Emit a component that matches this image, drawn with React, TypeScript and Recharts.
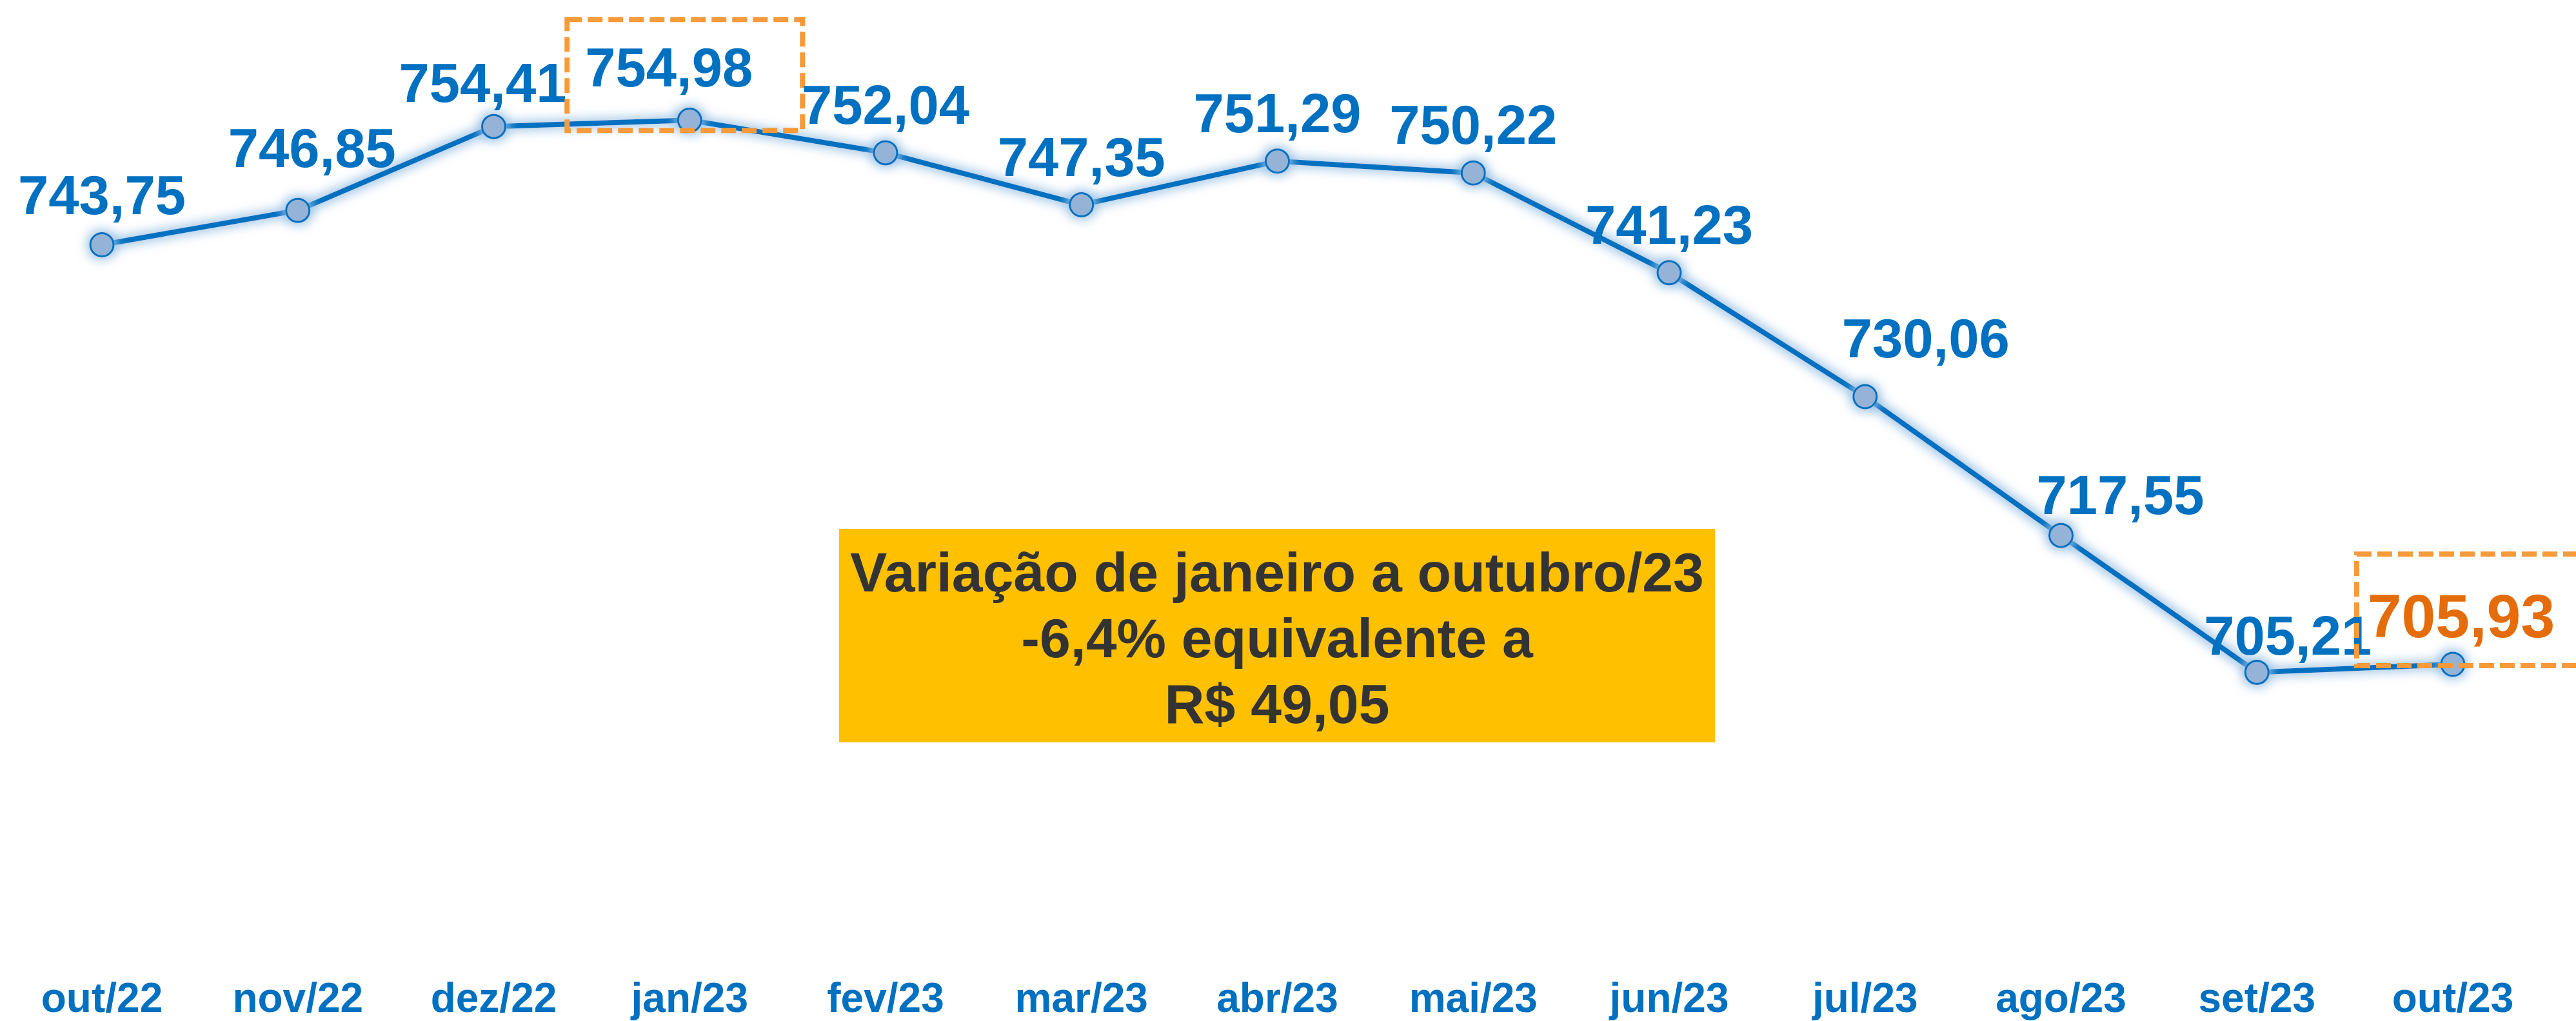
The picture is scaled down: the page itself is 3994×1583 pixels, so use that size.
import React from "react"
import { LineChart, Line, XAxis, YAxis, LabelList } from "recharts"

const months = [
  "out/22", "nov/22", "dez/22", "jan/23", "fev/23", "mar/23", "abr/23",
  "mai/23", "jun/23", "jul/23", "ago/23", "set/23", "out/23",
]
const prices = [
  743.75, 746.85, 754.41, 754.98, 752.04, 747.35, 751.29,
  750.22, 741.23, 730.06, 717.55, 705.21, 705.93,
]
const noteLines = ["Variação de janeiro a outubro/23", "-6,4% equivalente a", "R$ 49,05"]

const data = months.map((month, i) => ({ month, price: prices[i] }))

// label nudges (layout only), by point index
const labelDx = [0, 22, -17, -32, 0, 0, 0, 0, 0, 94, 92, 48, 13]
const labelDy = [48, 67, 38, 52, 45, 45, 45, 45, 45, 61, 33, 27, 42]
// dashed boxes around highlighted points, relative to the point
const boxes: Record<number, { x: number; y: number; w: number; h: number }> = {
  3: { x: -190, y: -156, w: 365, h: 172 },
  12: { x: -149, y: -171, w: 420, h: 173 },
}

const BLUE = "#0070C0"
const ORANGE = "#E46C0A"
const FONT = "'Liberation Sans', Arial, sans-serif"

const fmt = (v: number) => v.toFixed(2).replace(".", ",")

function renderLabel(props: any) {
  const { x, y, value, index } = props
  const last = index === prices.length - 1
  const box = boxes[index]
  return (
    <g key={index}>
      {box && (
        <rect
          x={x + box.x}
          y={y + box.y}
          width={box.w}
          height={box.h}
          fill="none"
          stroke="#F79A3A"
          strokeWidth={8}
          strokeDasharray="23 9"
        />
      )}
      <text
        x={x + labelDx[index]}
        y={y - labelDy[index]}
        textAnchor="middle"
        fill={last ? ORANGE : BLUE}
        fontSize={last ? 95 : 85}
        fontWeight="bold"
        fontFamily={FONT}
      >
        {fmt(Number(value))}
      </text>
    </g>
  )
}

function MonthTick(props: any) {
  const { x, y, payload } = props
  return (
    <text
      x={x}
      y={y}
      dy={93}
      textAnchor="middle"
      fill={BLUE}
      fontSize={64}
      fontWeight="bold"
      fontFamily={FONT}
    >
      {payload.value}
    </text>
  )
}

export default function App() {
  return (
    <div style={{ position: "absolute", left: 0, top: 0, width: 3994, height: 1583, background: "#fff" }}>
      <svg width={0} height={0} style={{ position: "absolute" }}>
        <defs>
          <filter id="glow" x="-60%" y="-60%" width="220%" height="220%">
            <feMorphology in="SourceAlpha" operator="dilate" radius={4} result="d" />
            <feGaussianBlur in="d" stdDeviation={8} result="b" />
            <feFlood floodColor="#9DC3E6" floodOpacity={0.9} />
            <feComposite in2="b" operator="in" result="g" />
            <feMerge>
              <feMergeNode in="g" />
              <feMergeNode in="SourceGraphic" />
            </feMerge>
          </filter>
        </defs>
      </svg>
      <LineChart width={3994} height={1583} data={data} margin={{ top: 100, right: 0, bottom: 0, left: 0 }}>
        <XAxis
          dataKey="month"
          scale="point"
          padding={{ left: 158, right: 191 }}
          axisLine={false}
          tickLine={false}
          tickSize={0}
          tickMargin={0}
          height={107}
          interval={0}
          tick={<MonthTick />}
        />
        <YAxis hide domain={[680, 760]} />
        <Line
          dataKey="price"
          stroke={BLUE}
          strokeWidth={8}
          filter="url(#glow)"
          dot={{ r: 18, fill: "#95B3D7", stroke: BLUE, strokeWidth: 3, filter: "url(#glow)" }}
          isAnimationActive={false}
        >
          <LabelList dataKey="price" content={renderLabel} />
        </Line>
      </LineChart>
      <div
        style={{
          position: "absolute",
          left: 1301,
          top: 820,
          width: 1358,
          height: 331,
          boxSizing: "border-box",
          paddingTop: 16,
          background: "#FFC000",
          color: "#333333",
          fontFamily: FONT,
          fontWeight: "bold",
          fontSize: 86,
          lineHeight: "102px",
          textAlign: "center",
          whiteSpace: "nowrap",
        }}
      >
        {noteLines.map((t) => (
          <div key={t}>{t}</div>
        ))}
      </div>
    </div>
  )
}
